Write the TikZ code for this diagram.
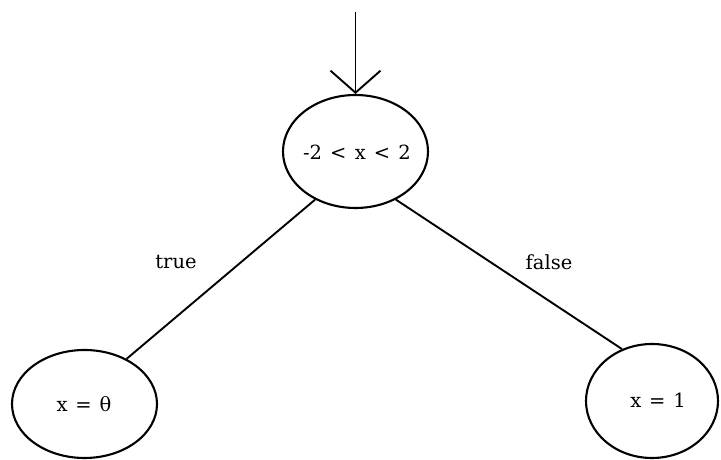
\documentclass[tikz,border=0pt]{standalone}
\usepackage{fontspec}
\setmainfont{DejaVu Serif}
\usetikzlibrary{shapes.geometric,arrows.meta}
\begin{document}
\begin{tikzpicture}[x=1pt,y=1pt,
  every node/.style={font=\fontsize{19.5}{23}\selectfont},
  oval/.style={draw,ellipse,line width=2.1pt,inner sep=0pt},
  edge/.style={line width=1.9pt},
  lbl/.style={inner sep=0pt}]
\useasboundingbox (0,0) rectangle (721,460);
\node[oval,minimum width=145pt,minimum height=113pt] (top) at (355.5,308.5) {};
\node[lbl] (toptext) at (357,308) {-2\hspace{0.42em}<\hspace{0.42em}x\hspace{0.42em}<\hspace{0.42em}2};
\node[oval,minimum width=145pt,minimum height=108pt] (left) at (84.5,56) {};
\node[lbl] (lefttext) at (84,56) {x\hspace{0.4em}=\hspace{0.4em}θ};
\node[oval,minimum width=132pt,minimum height=114pt] (right) at (652,59) {};
\node[lbl] (righttext) at (658,60) {x\hspace{0.4em}=\hspace{0.4em}1};
\coordinate (start) at (355.5,448);
\draw[edge,-{Straight Barb[length=22pt,width=50pt,line width=1.9pt]}] (start) -- (top.north);
\draw[edge] (top.230) -- (left.47);
\draw[edge] (top.-50) -- (right.120);
\node[lbl] (t) at (176,198) {true};
\node[lbl] (f) at (549,198) {false};
\end{tikzpicture}
\end{document}
